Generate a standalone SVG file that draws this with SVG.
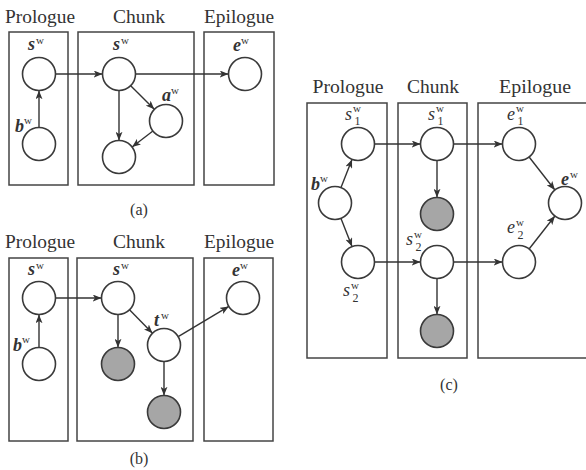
<svg xmlns="http://www.w3.org/2000/svg" width="586" height="470" viewBox="0 0 586 470">
<defs>
<marker id="ah" viewBox="0 0 10 8" refX="10" refY="4" markerWidth="9" markerHeight="7" markerUnits="userSpaceOnUse" orient="auto">
<path d="M0,0 L10,4 L0,8 L2.5,4 Z" fill="#333"/>
</marker>
<style>
.box{fill:none;stroke:#444;stroke-width:1.5}
.nd{fill:#fff;stroke:#3a3a3a;stroke-width:1.6}
.obs{fill:#a6a6a6;stroke:#3a3a3a;stroke-width:1.6}
.e{stroke:#333;stroke-width:1.4;fill:none;marker-end:url(#ah)}
text{font-family:"Liberation Serif","Times New Roman",Tinos,"Nimbus Roman",FreeSerif,serif;fill:#333}
.t{font-size:18px;text-anchor:middle}
.cap{font-size:16px;text-anchor:middle}
.v{font-size:18px;font-style:italic;font-weight:bold}
.vi{font-size:18px;font-style:italic}
.sup{font-size:11px}
.sub{font-size:12px}
</style>
</defs>

<!-- Panel (a) -->
<g id="a-titles">
<text class="t" x="40" y="23" textLength="70" lengthAdjust="spacingAndGlyphs">Prologue</text>
<text class="t" x="139" y="23" textLength="52" lengthAdjust="spacingAndGlyphs">Chunk</text>
<text class="t" x="239" y="23" textLength="70" lengthAdjust="spacingAndGlyphs">Epilogue</text>
</g>
<g id="a-boxes">
<rect class="box" x="9" y="32" width="59" height="153"/>
<rect class="box" x="78" y="32" width="116" height="153"/>
<rect class="box" x="204" y="32" width="70" height="153"/>
</g>
<g id="a-edges">
<line class="e" x1="55.5" y1="74" x2="102.5" y2="74"/>
<line class="e" x1="135.5" y1="74" x2="228.5" y2="74"/>
<line class="e" x1="39" y1="127.5" x2="39" y2="90.5"/>
<line class="e" x1="119" y1="90.5" x2="119" y2="140.5"/>
<line class="e" x1="130.7" y1="85.7" x2="154.3" y2="109.3"/>
<line class="e" x1="152.9" y1="131" x2="132.1" y2="147"/>
</g>
<g id="a-s-pro"><circle class="nd" cx="39" cy="74" r="16.5"/><text class="v" x="28" y="50">s</text><text class="sup" x="36" y="44">w</text></g>
<g id="a-b"><circle class="nd" cx="39" cy="144" r="16.5"/><text class="v" x="15" y="132">b</text><text class="sup" x="24" y="124">w</text></g>
<g id="a-s-chunk"><circle class="nd" cx="119" cy="74" r="16.5"/><text class="v" x="113" y="50">s</text><text class="sup" x="121" y="44">w</text></g>
<g id="a-a"><circle class="nd" cx="166" cy="121" r="16.5"/><text class="v" x="162" y="101">a</text><text class="sup" x="171" y="94">w</text></g>
<g id="a-bottom"><circle class="nd" cx="119" cy="157" r="16.5"/></g>
<g id="a-e"><circle class="nd" cx="245" cy="74" r="16.5"/><text class="v" x="233" y="51">e</text><text class="sup" x="241" y="44">w</text></g>
<text class="cap" x="139" y="215">(a)</text>

<!-- Panel (b) -->
<g id="b-titles">
<text class="t" x="40" y="248" textLength="70" lengthAdjust="spacingAndGlyphs">Prologue</text>
<text class="t" x="139" y="248" textLength="52" lengthAdjust="spacingAndGlyphs">Chunk</text>
<text class="t" x="239" y="248" textLength="70" lengthAdjust="spacingAndGlyphs">Epilogue</text>
</g>
<g id="b-boxes">
<rect class="box" x="9" y="258" width="59" height="183"/>
<rect class="box" x="77" y="258" width="116" height="183"/>
<rect class="box" x="204" y="258" width="69" height="183"/>
</g>
<g id="b-edges">
<line class="e" x1="55.5" y1="298" x2="101.5" y2="298"/>
<line class="e" x1="39" y1="347.5" x2="39" y2="314.5"/>
<line class="e" x1="118" y1="314.5" x2="118" y2="347.5"/>
<line class="e" x1="129.5" y1="309.8" x2="152.5" y2="333.2"/>
<line class="e" x1="164" y1="361.5" x2="164" y2="395.5"/>
<line class="e" x1="178.2" y1="336.6" x2="228.8" y2="306.4"/>
</g>
<g id="b-s-pro"><circle class="nd" cx="39" cy="298" r="16.5"/><text class="v" x="28" y="275">s</text><text class="sup" x="36" y="269">w</text></g>
<g id="b-b"><circle class="nd" cx="39" cy="364" r="16.5"/><text class="v" x="13" y="351">b</text><text class="sup" x="22" y="343">w</text></g>
<g id="b-s-chunk"><circle class="nd" cx="118" cy="298" r="16.5"/><text class="v" x="113" y="275">s</text><text class="sup" x="121" y="269">w</text></g>
<g id="b-obs1"><circle class="obs" cx="118" cy="364" r="16.5"/></g>
<g id="b-t"><circle class="nd" cx="164" cy="345" r="16.5"/><text class="v" x="154" y="326">t</text><text class="sup" x="161" y="319">w</text></g>
<g id="b-obs2"><circle class="obs" cx="164" cy="412" r="16.5"/></g>
<g id="b-e"><circle class="nd" cx="243" cy="298" r="16.5"/><text class="v" x="232" y="276">e</text><text class="sup" x="240" y="269">w</text></g>
<text class="cap" x="139" y="464">(b)</text>

<!-- Panel (c) -->
<g id="c-titles">
<text class="t" x="348" y="93" textLength="71" lengthAdjust="spacingAndGlyphs">Prologue</text>
<text class="t" x="433" y="93" textLength="52" lengthAdjust="spacingAndGlyphs">Chunk</text>
<text class="t" x="535" y="93" textLength="72" lengthAdjust="spacingAndGlyphs">Epilogue</text>
</g>
<g id="c-boxes">
<rect class="box" x="307" y="103" width="80" height="255"/>
<rect class="box" x="398" y="103" width="69" height="255"/>
<rect class="box" x="478" y="103" width="120" height="255"/>
</g>
<g id="c-edges">
<line class="e" x1="374.5" y1="144" x2="420.5" y2="144"/>
<line class="e" x1="453.5" y1="144" x2="502.5" y2="144"/>
<line class="e" x1="341" y1="187.6" x2="352" y2="159.4"/>
<line class="e" x1="341" y1="218.4" x2="352" y2="246.6"/>
<line class="e" x1="374.5" y1="262" x2="420.5" y2="262"/>
<line class="e" x1="453.5" y1="262" x2="502.5" y2="262"/>
<line class="e" x1="437" y1="160.5" x2="437" y2="197.5"/>
<line class="e" x1="437" y1="278.5" x2="437" y2="314.5"/>
<line class="e" x1="529.1" y1="157" x2="554.9" y2="190"/>
<line class="e" x1="529.1" y1="249" x2="554.9" y2="216"/>
</g>
<g id="c-s1-pro"><circle class="nd" cx="358" cy="144" r="16.5"/><text class="vi" x="345" y="120">s</text><text class="sup" x="353" y="112">w</text><text class="sub" x="354.5" y="125">1</text></g>
<g id="c-b"><circle class="nd" cx="335" cy="203" r="16.5"/><text class="v" x="311" y="190">b</text><text class="sup" x="320" y="182">w</text></g>
<g id="c-s2-pro"><circle class="nd" cx="358" cy="262" r="16.5"/><text class="vi" x="343" y="296">s</text><text class="sup" x="351" y="289">w</text><text class="sub" x="352.5" y="302">2</text></g>
<g id="c-s1-chunk"><circle class="nd" cx="437" cy="144" r="16.5"/><text class="vi" x="428" y="120">s</text><text class="sup" x="436" y="112">w</text><text class="sub" x="437.5" y="125">1</text></g>
<g id="c-obs1"><circle class="obs" cx="437" cy="214" r="16.5"/></g>
<g id="c-s2-chunk"><circle class="nd" cx="437" cy="262" r="16.5"/><text class="vi" x="406" y="245">s</text><text class="sup" x="414" y="238">w</text><text class="sub" x="415.5" y="251">2</text></g>
<g id="c-obs2"><circle class="obs" cx="437" cy="331" r="16.5"/></g>
<g id="c-e1"><circle class="nd" cx="519" cy="144" r="16.5"/><text class="vi" x="507" y="120">e</text><text class="sup" x="516" y="112">w</text><text class="sub" x="517.5" y="125">1</text></g>
<g id="c-e"><circle class="nd" cx="565" cy="203" r="16.5"/><text class="v" x="561" y="185">e</text><text class="sup" x="570" y="178">w</text></g>
<g id="c-e2"><circle class="nd" cx="519" cy="262" r="16.5"/><text class="vi" x="507" y="233">e</text><text class="sup" x="516" y="226">w</text><text class="sub" x="517.5" y="239">2</text></g>
<text class="cap" x="449" y="390">(c)</text>
</svg>
